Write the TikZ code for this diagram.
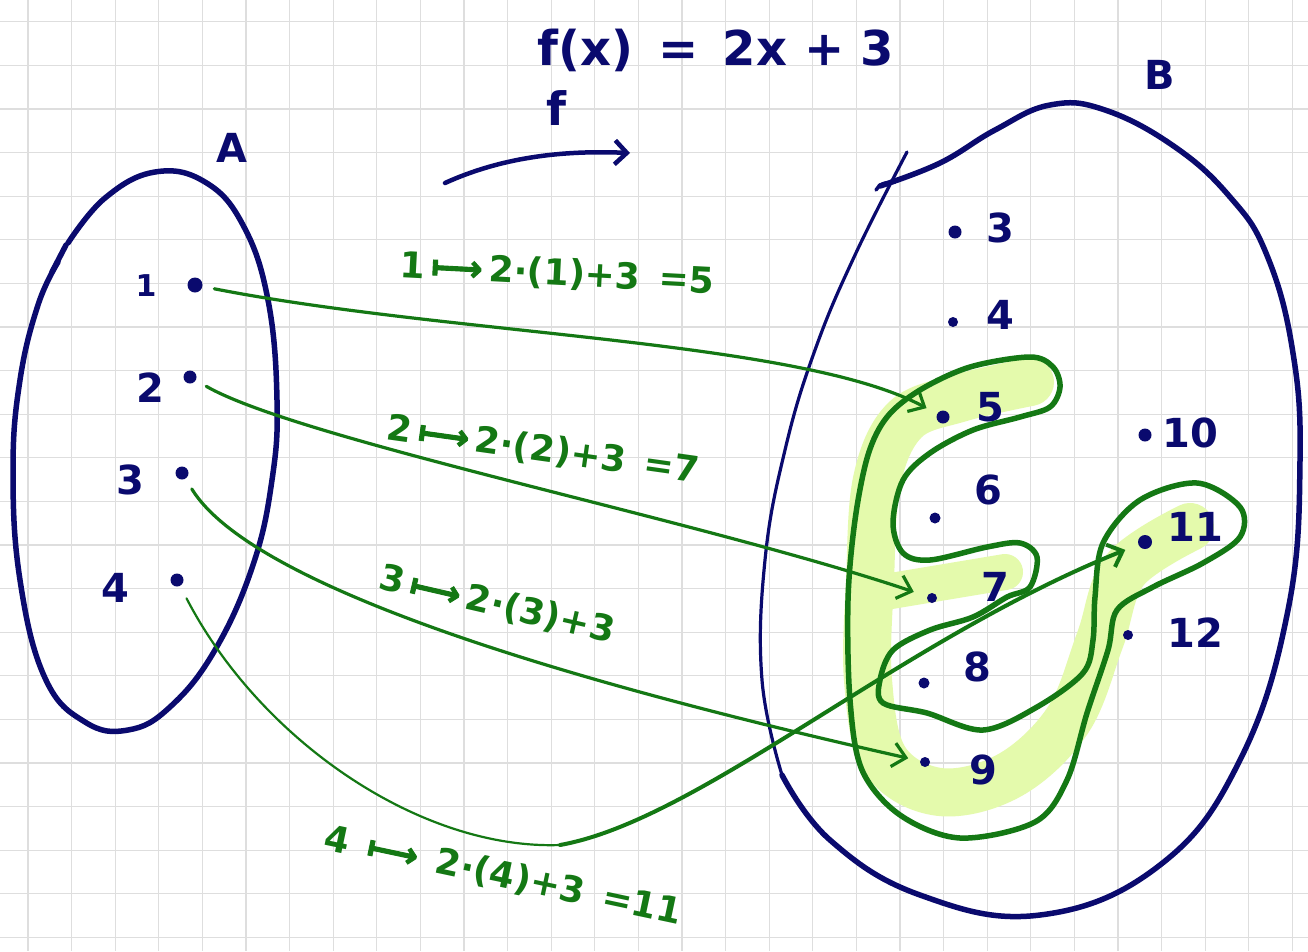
\documentclass[tikz,border=0pt]{standalone}
\usepackage{fontspec}
\setmainfont{DejaVu Sans}
\newfontfamily\arrowfont[FakeBold=2.5]{DejaVu Sans}
\usetikzlibrary{arrows.meta}
\definecolor{inkblue}{RGB}{10,10,110}
\definecolor{inkgreen}{RGB}{20,120,20}
\definecolor{hilite}{RGB}{228,250,172}
\definecolor{gridgray}{RGB}{222,222,222}
\newcommand{\mapsarrow}{\,{\arrowfont ⟼}\,}
\begin{document}
\begin{tikzpicture}[x=1pt,y=-1pt,
  dot/.style={circle,fill=inkblue,inner sep=0pt,minimum size=13pt},
  bluetxt/.style={text=inkblue,font=\fontsize{40}{44}\selectfont\bfseries,inner sep=0pt},
  greentxt/.style={text=inkgreen,font=\fontsize{36}{40}\selectfont\bfseries,inner sep=0pt},
  setline/.style={draw=inkblue,line width=5.5pt,line cap=round,line join=round},
  thinset/.style={draw=inkblue,line width=3.2pt,line cap=round,line join=round},
  maparrow/.style={draw=inkgreen,line width=3.2pt,line cap=round,
    -{Straight Barb[length=13pt,width=24pt]}},
  rangeline/.style={draw=inkgreen,line width=5.5pt,line cap=round,line join=round},
  hl/.style={draw=hilite,line width=48pt,line cap=round,line join=round}]
\useasboundingbox (0,0) rectangle (1308,951);
\fill[white] (0,0) rectangle (1308,951);
% grid
\foreach \i in {0,...,29} \draw[gridgray,line width=1.2pt] ({28+43.6*\i},0) -- ++(0,951);
\foreach \j in {0,...,21} \draw[gridgray,line width=1.2pt] (0,{21.7+43.6*\j}) -- ++(1308,0);

% highlight of the range
\draw[hl] plot[smooth,tension=0.6] coordinates {(1030,382) (960,398) (905,420) (877,480) (870,580) (868,680) (885,760) (940,792) (1010,775) (1068,720) (1100,640) (1125,570) (1190,527)};
\draw[hl,line width=36pt] (885,592) -- (1005,572);

% titles
\node[bluetxt,font=\fontsize{48}{52}\selectfont\bfseries] (title) at (716,50) {f(x) \,=\, 2x + 3};
\node[bluetxt,font=\fontsize{46}{50}\selectfont\bfseries] (flabel) at (556,108) {f};
\coordinate (fs) at (445,183);
\coordinate (fe) at (630,153);
\draw[setline,line width=4.5pt,-{Straight Barb[length=12pt,width=24pt]}] (fs) .. controls (500,158) and (560,150) .. (fe);
\node[bluetxt] (Alab) at (232,148) {A};
\node[bluetxt] (Blab) at (1160,75) {B};

% set A
\draw[setline] plot[smooth,tension=0.7] coordinates {(68,243) (105,198) (155,172) (205,182) (243,225) (268,300) (277,400) (272,480) (253,565) (215,650) (170,707) (128,730) (85,722) (45,678) (20,580) (13,470) (20,380) (38,305) (58,262)};
\draw[setline] (52,272) -- (66,245);

% set B
\draw[setline] plot[smooth,tension=0.7] coordinates {(880,186) (940,163) (995,130) (1050,105) (1105,110) (1175,147) (1230,197) (1266,253) (1292,347) (1300,460) (1288,610) (1240,760) (1160,865) (1040,915) (920,895) (830,840) (782,775)};
\draw[thinset] plot[smooth,tension=0.7] coordinates {(782,775) (762,680) (765,560) (785,450) (815,350) (855,255) (907,152)};
\draw[setline,line width=3.5pt] (876,190) .. controls (882,180) and (890,184) .. (895,182);

% elements of A
\node[dot,minimum size=15pt] (a1) at (195,285) {};
\node[dot] (a2) at (190,377) {};
\node[dot] (a3) at (182,473) {};
\node[dot] (a4) at (177,580) {};
\node[bluetxt,font=\fontsize{30}{34}\selectfont\bfseries] (t1) at (146,286) {1};
\node[bluetxt] (t2) at (150,388) {2};
\node[bluetxt] (t3) at (130,480) {3};
\node[bluetxt] (t4) at (115,588) {4};

% elements of B
\node[dot] (b3) at (955,232) {};
\node[dot,minimum size=10pt] (b4) at (953,322) {};
\node[dot] (b5) at (943,417) {};
\node[dot,minimum size=11pt] (b6) at (935,518) {};
\node[dot,minimum size=10pt] (b7) at (932,598) {};
\node[dot,minimum size=11pt] (b8) at (924,683) {};
\node[dot,minimum size=10pt] (b9) at (925,762) {};
\node[dot] (b10) at (1145,435) {};
\node[dot,minimum size=14pt] (b11) at (1145,542) {};
\node[dot,minimum size=10pt] (b12) at (1128,635) {};
\node[bluetxt] (u3) at (1000,228) {3};
\node[bluetxt] (u4) at (1000,315) {4};
\node[bluetxt] (u5) at (990,407) {5};
\node[bluetxt] (u6) at (988,490) {6};
\node[bluetxt] (u7) at (995,587) {7};
\node[bluetxt] (u8) at (977,667) {8};
\node[bluetxt] (u9) at (983,770) {9};
\node[bluetxt] (u10) at (1190,433) {10};
\node[bluetxt] (u11) at (1195,527) {11};
\node[bluetxt] (u12) at (1195,633) {12};

% range outline
\draw[rangeline] plot[smooth cycle,tension=0.55] coordinates {(887,417) (920,390) (970,367) (1030,357) (1053,367) (1060,387) (1050,407) (1020,417) (973,430) (930,453) (903,480) (893,523) (903,553) (930,560) (987,547) (1020,543) (1037,557) (1030,587) (1007,597) (973,617) (930,630) (893,650) (880,680) (883,703) (927,713) (983,730) (1037,707) (1083,673) (1093,640) (1095,597) (1103,543) (1140,500) (1197,483) (1240,507) (1240,537) (1203,563) (1153,587) (1117,610) (1108,650) (1087,713) (1067,780) (1035,822) (960,838) (900,815) (862,770) (850,700) (848,600) (855,520) (868,455)};

% mapping arrows
\draw[maparrow,shorten <=12pt,shorten >=12pt] (a1) .. controls (450,335) and (800,340) .. (b5);
\draw[maparrow,shorten <=12pt,shorten >=14pt] (a2) .. controls (300,440) and (700,520) .. (b7);
\draw[maparrow,shorten <=12pt,shorten >=12pt] (a3) .. controls (260,600) and (650,700) .. (b9);
\coordinate (m4) at (560,845);
\draw[draw=inkgreen,line width=2.2pt,line cap=round,shorten <=14pt] (a4) .. controls (260,740) and (420,850) .. (m4);
\draw[maparrow,line width=4pt,shorten >=14pt] (m4) .. controls (700,820) and (900,640) .. (b11);

% labels of the arrows
\node[greentxt,rotate=-3] (l1) at (557,274) {1\mapsarrow 2·(1)+3 \,=5};
\node[greentxt,rotate=-8] (l2) at (543,450) {2\mapsarrow 2·(2)+3 \,=7};
\node[greentxt,rotate=-13] (l3) at (497,605) {3\mapsarrow 2·(3)+3};
\node[greentxt,rotate=-12] (l4) at (503,876) {4 \mapsarrow\ 2·(4)+3 \,=11};
\end{tikzpicture}
\end{document}
